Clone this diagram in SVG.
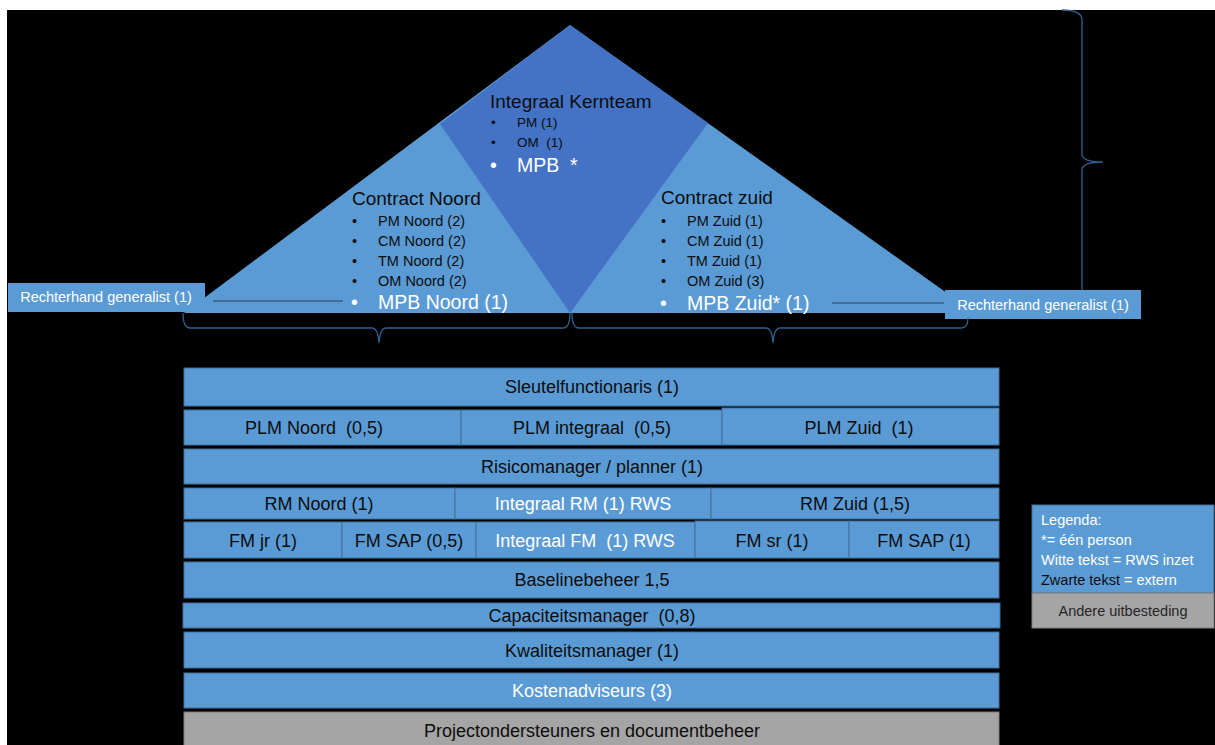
<svg xmlns="http://www.w3.org/2000/svg" width="1215" height="745" viewBox="0 0 1215 745">
<style>
text{font-family:"Liberation Sans",Arial,sans-serif;white-space:pre}
.cell{fill:#5B9BD5;stroke:#41719C;stroke-width:1}
.grey{fill:#A5A5A5;stroke:#7F7F7F;stroke-width:1}
.rt{font-size:18px;fill:#0d0d0d;text-anchor:middle}
.rw{font-size:18px;fill:#ffffff;text-anchor:middle}
.tt{font-size:19px;fill:#0d0d0d}
.it{font-size:14.5px;fill:#0d0d0d}
.ik{font-size:13.5px;fill:#0d0d0d}
.mp{font-size:19.5px;fill:#ffffff}
.lg{font-size:14.5px;fill:#ffffff}
.br{fill:none;stroke:#2E5F8E;stroke-width:1.3}
</style>
<rect x="0" y="0" width="1215" height="745" fill="#ffffff"/>
<rect x="7" y="10" width="1208" height="735" fill="#000000"/>

<g id="triangle-noord">
<polygon points="570,25 184,313 570,313" fill="#5B9BD5"/>
</g>
<g id="triangle-zuid">
<polygon points="570,25 975,313 570,313" fill="#5B9BD5"/>
</g>
<g id="kernteam">
<polygon points="570,25 440,124 570,313 708,123" fill="#4472C4"/>
<text class="tt" x="490" y="108" font-size="18">Integraal Kernteam</text>
<text class="ik" x="491" y="127">•</text><text class="ik" x="517" y="127">PM (1)</text>
<text class="ik" x="491" y="147">•</text><text class="ik" x="517" y="147">OM  (1)</text>
<text class="mp" x="490" y="172">•</text><text class="mp" x="517" y="172">MPB  *</text>
</g>
<g id="contract-noord">
<text class="tt" x="352" y="205">Contract Noord</text>
<text class="it" x="352" y="226">•</text><text class="it" x="378" y="226">PM Noord (2)</text>
<text class="it" x="352" y="246">•</text><text class="it" x="378" y="246">CM Noord (2)</text>
<text class="it" x="352" y="266">•</text><text class="it" x="378" y="266">TM Noord (2)</text>
<text class="it" x="352" y="286">•</text><text class="it" x="378" y="286">OM Noord (2)</text>
<text class="mp" x="351" y="309">•</text><text class="mp" x="378" y="309">MPB Noord (1)</text>
</g>
<g id="contract-zuid">
<text class="tt" x="661" y="204">Contract zuid</text>
<text class="it" x="661" y="226">•</text><text class="it" x="687" y="226">PM Zuid (1)</text>
<text class="it" x="661" y="246">•</text><text class="it" x="687" y="246">CM Zuid (1)</text>
<text class="it" x="661" y="266">•</text><text class="it" x="687" y="266">TM Zuid (1)</text>
<text class="it" x="661" y="286">•</text><text class="it" x="687" y="286">OM Zuid (3)</text>
<text class="mp" x="660" y="310">•</text><text class="mp" x="687" y="310">MPB Zuid* (1)</text>
</g>

<g id="rechterhand-links">
<rect x="8" y="283" width="197" height="29" fill="#5B9BD5"/>
<text class="lg" x="106" y="302" text-anchor="middle">Rechterhand generalist (1)</text>
</g>
<g id="rechterhand-rechts">
<rect x="945" y="290" width="196" height="29" fill="#5B9BD5"/>
<text class="lg" x="1043" y="310" text-anchor="middle">Rechterhand generalist (1)</text>
</g>

<g id="connectors">
<line x1="213" y1="301" x2="343" y2="301" stroke="#3B5F85" stroke-width="1.3"/>
<line x1="832" y1="303" x2="944" y2="303" stroke="#3B5F85" stroke-width="1.3"/>
<path class="br" d="M183,313 Q183,328 190,328 L372,328 Q378,328 379,343 Q380,328 386,328 L563,328 Q570,328 570,313"/>
<path class="br" d="M572,313 Q572,328 579,328 L766,328 Q772,328 773,343 Q774,328 780,328 L961,328 Q968,328 968,318"/>
<path class="br" d="M1062,10 Q1082,10 1082,20 L1082,154 Q1082,162 1103,162 Q1082,162 1082,170 L1082,290"/>
</g>

<g id="sleutelfunctionaris">
<rect class="cell" x="184" y="368" width="815" height="38"/>
<text class="rt" x="592" y="393">Sleutelfunctionaris (1)</text>
</g>
<g id="plm-noord">
<rect class="cell" x="184" y="410" width="277" height="35"/>
<text class="rt" x="314" y="434">PLM Noord  (0,5)</text>
</g>
<g id="plm-integraal">
<rect class="cell" x="461" y="410" width="261" height="35"/>
<text class="rt" x="592" y="434">PLM integraal  (0,5)</text>
</g>
<g id="plm-zuid">
<rect class="cell" x="722" y="408" width="277" height="37"/>
<text class="rt" x="859" y="434">PLM Zuid  (1)</text>
</g>
<g id="risicomanager">
<rect class="cell" x="184" y="449" width="815" height="35"/>
<text class="rt" x="592" y="473">Risicomanager / planner (1)</text>
</g>
<g id="rm-noord">
<rect class="cell" x="184" y="488" width="271" height="31"/>
<text class="rt" x="319" y="510">RM Noord (1)</text>
</g>
<g id="rm-integraal">
<rect class="cell" x="455" y="488" width="256" height="31"/>
<text class="rw" x="583" y="510">Integraal RM (1) RWS</text>
</g>
<g id="rm-zuid">
<rect class="cell" x="711" y="488" width="288" height="31"/>
<text class="rt" x="855" y="510">RM Zuid (1,5)</text>
</g>
<g id="fm-jr">
<rect class="cell" x="184" y="522" width="158" height="36"/>
<text class="rt" x="263" y="547">FM jr (1)</text>
</g>
<g id="fm-sap-05">
<rect class="cell" x="342" y="522" width="134" height="36"/>
<text class="rt" x="409" y="547">FM SAP (0,5)</text>
</g>
<g id="fm-integraal">
<rect class="cell" x="476" y="522" width="219" height="36"/>
<text class="rw" x="585" y="547">Integraal FM  (1) RWS</text>
</g>
<g id="fm-sr">
<rect class="cell" x="695" y="521" width="154" height="37"/>
<text class="rt" x="772" y="547">FM sr (1)</text>
</g>
<g id="fm-sap-1">
<rect class="cell" x="849" y="521" width="150" height="37"/>
<text class="rt" x="924" y="547">FM SAP (1)</text>
</g>
<g id="baselinebeheer">
<rect class="cell" x="184" y="562" width="815" height="36"/>
<text class="rt" x="592" y="586">Baselinebeheer 1,5</text>
</g>
<g id="capaciteitsmanager">
<rect class="cell" x="183" y="603" width="817" height="25"/>
<text class="rt" x="592" y="622">Capaciteitsmanager  (0,8)</text>
</g>
<g id="kwaliteitsmanager">
<rect class="cell" x="184" y="632" width="815" height="36"/>
<text class="rt" x="592" y="657">Kwaliteitsmanager (1)</text>
</g>
<g id="kostenadviseurs">
<rect class="cell" x="184" y="673" width="815" height="35"/>
<text class="rw" x="592" y="697">Kostenadviseurs (3)</text>
</g>
<g id="projectondersteuners">
<rect class="grey" x="184" y="712" width="815" height="40"/>
<text class="rt" x="592" y="737">Projectondersteuners en documentbeheer</text>
</g>

<g id="legenda">
<rect x="1032" y="505" width="182" height="88" fill="#5B9BD5" stroke="#41719C"/>
<text class="lg" x="1041" y="525">Legenda:</text>
<text class="lg" x="1041" y="545">*= één person</text>
<text class="lg" x="1041" y="565">Witte tekst = RWS inzet</text>
<text class="lg" x="1041" y="585"><tspan fill="#0d0d0d">Zwarte tekst</tspan> = extern</text>
</g>
<g id="andere-uitbesteding">
<rect class="grey" x="1032" y="593" width="182" height="35"/>
<text x="1123" y="616" font-size="14.5" fill="#262626" text-anchor="middle">Andere uitbesteding</text>
</g>
</svg>
